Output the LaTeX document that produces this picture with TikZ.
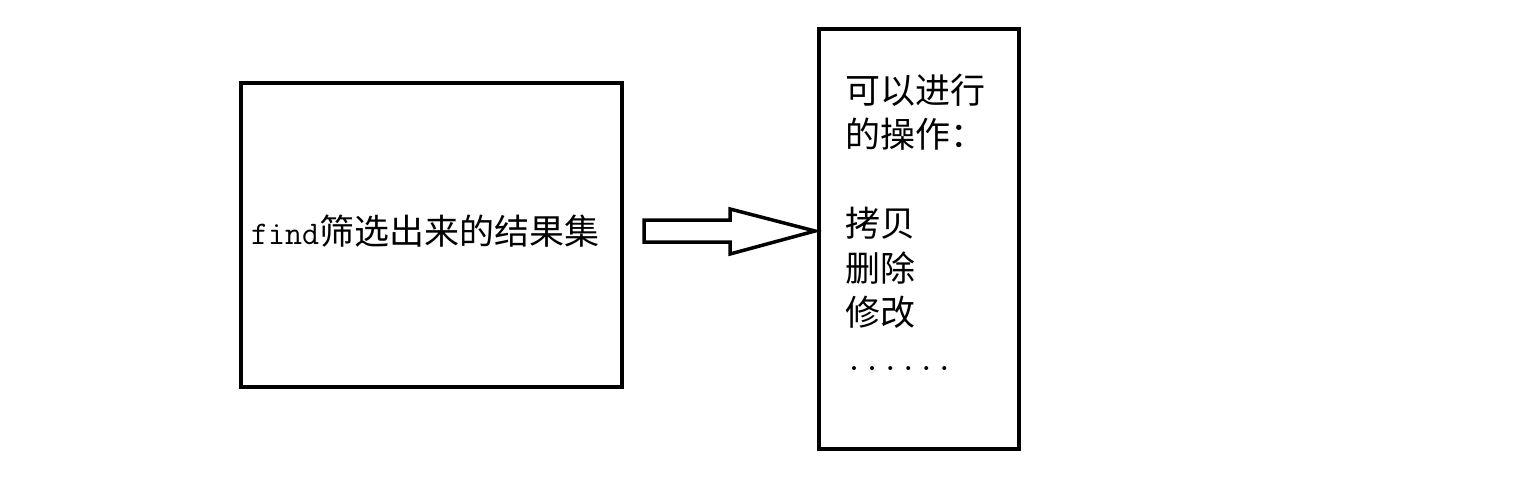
\documentclass[tikz,border=0pt]{standalone}
\usepackage{fontspec}
\usetikzlibrary{calc}
\newfontfamily\cjk{Noto Sans CJK SC}
\begin{document}
\begin{tikzpicture}[x=1pt,y=-1pt,
  box/.style={draw=black,line width=4pt,rectangle,inner sep=0pt,fill=white},
  txt/.style={inner sep=0pt,text=black},
  blockarrow/.style={draw=black,line width=3.5pt,line join=miter,fill=white}]
\useasboundingbox[fill=white] (0,0) rectangle (1528,488);
\node[box,minimum width=381pt,minimum height=304pt] (src) at (431.5,235) {};
\node[box,minimum width=200pt,minimum height=420pt] (ops) at (919,239) {};
\node[txt,anchor=base west] (srctext) at (251,244)
  {\ttfamily\fontsize{33}{35}\selectfont find\cjk\fontsize{35}{44}\selectfont 筛选出来的结果集};
\node[txt,anchor=base west] (opstext) at (845,103)
  {\fontsize{35}{44.5}\selectfont\begin{tabular}[t]{@{}l@{}}
  \cjk 可以进行\\
  \cjk 的操作：\\
  \\
  \cjk 拷贝\\
  \cjk 删除\\
  \cjk 修改\\
  {\ttfamily\fontsize{35}{44.5}\selectfont ......}
  \end{tabular}};
\coordinate (tail) at ($(src.east)+(20,-4)$);
\coordinate (tip) at ($(ops.west)+(-2,-8)$);
\draw[blockarrow] (tail) ++(0,-11) -- ++(86,0) -- ++(0,-11) -- (tip)
  -- ($(tail)+(86,23)$) -- ++(0,-12) -- ++(-86,0) -- cycle;
\end{tikzpicture}
\end{document}
